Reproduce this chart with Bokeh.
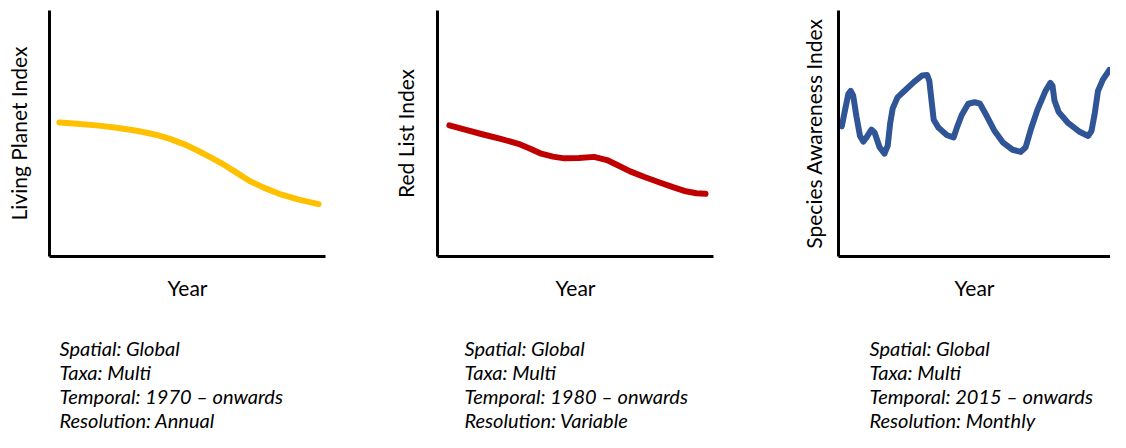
from bokeh.plotting import figure
from bokeh.layouts import row, column
from bokeh.models import Range1d, FixedTicker, ColumnDataSource
from bokeh.embed import file_html
from bokeh.resources import INLINE
from bokeh.core.properties import value

FONT = "Lato"

# ---- data (relative index values, 0-100 scales) ----
lpi_x = [3.6, 10.0, 17.9, 25.0, 32.1, 38.5, 43.9, 48.9, 53.6, 58.4, 63.2, 67.9, 72.5, 77.8, 83.2, 90.0, 97.5]
lpi_y = [54.5, 54.0, 53.2, 52.2, 51.0, 49.5, 47.7, 45.6, 43.1, 40.3, 37.3, 34.0, 30.7, 27.9, 25.5, 23.2, 21.3]

rli_x = [4.3, 10.0, 16.2, 22.9, 29.3, 33.6, 37.6, 41.8, 46.0, 51.3, 56.7, 61.4, 65.5, 69.8, 75.0, 80.5, 85.3, 90.0, 93.8, 97.1]
rli_y = [53.3, 51.6, 49.7, 47.8, 45.8, 43.8, 41.8, 40.6, 39.9, 40.0, 40.5, 39.2, 37.0, 34.6, 32.3, 30.1, 28.2, 26.5, 25.7, 25.5]

sai_x = [1.2, 2.4, 3.6, 4.5, 5.4, 6.6, 7.9, 9.1, 10.3, 12.1, 13.3, 15.1, 16.9, 18.1, 19.0, 19.9, 21.7,
         24.2, 27.8, 30.8, 32.6, 33.4, 34.2, 35.0, 36.8, 39.9, 42.3, 43.5, 45.3, 47.7, 50.1, 52.0,
         54.3, 57.4, 60.4, 64.0, 67.0, 68.8, 70.7, 73.1, 76.1, 77.9, 78.7, 79.4, 80.9, 84.5, 88.8,
         91.8, 93.0, 94.2, 95.4, 97.2, 99.6]
sai_y = [52.9, 59.5, 66.0, 67.3, 65.4, 56.9, 49.0, 46.7, 48.4, 51.6, 50.3, 44.4, 41.8, 45.1, 54.2, 60.1, 64.7,
         67.3, 71.0, 73.6, 73.8, 71.3, 63.4, 55.6, 52.3, 49.3, 48.4, 52.3, 57.5, 62.1, 62.7, 62.1,
         57.5, 51.0, 46.4, 43.4, 42.5, 44.4, 51.6, 59.5, 67.3, 70.6, 69.3, 63.4, 58.8, 54.2, 50.6,
         49.0, 51.0, 58.1, 67.3, 71.9, 75.8]

x_label = "Year"
y_labels = ["Living Planet Index", "Red List Index", "Species Awareness Index"]
line_colors = ["#FFC000", "#C00000", "#2F5597"]

notes_1 = ["Spatial: Global", "Taxa: Multi", "Temporal: 1970 \u2013 onwards", "Resolution: Annual"]
notes_2 = ["Spatial: Global", "Taxa: Multi", "Temporal: 1980 \u2013 onwards", "Resolution: Variable"]
notes_3 = ["Spatial: Global", "Taxa: Multi", "Temporal: 2015 \u2013 onwards", "Resolution: Monthly"]


def make_panel(xs, ys, ylabel, color, border_left, frame_w, border_right, ylabel_standoff):
    p = figure(frame_width=frame_w, frame_height=246,
               min_border_left=border_left, min_border_right=border_right,
               min_border_top=10, min_border_bottom=54,
               x_range=Range1d(0, 100), y_range=Range1d(0, 100),
               output_backend="svg", toolbar_location=None,
               background_fill_color="white", border_fill_color="white")
    p.outline_line_color = None
    p.grid.visible = False
    for ax in (p.xaxis, p.yaxis):
        ax.ticker = FixedTicker(ticks=[])
        ax.axis_line_width = 3
        ax.axis_line_color = "black"
        ax.major_tick_line_color = None
        ax.minor_tick_line_color = None
        ax.major_tick_out = 0
        ax.major_tick_in = 0
        ax.major_label_standoff = 0
        ax.major_label_text_font_size = "0px"
        ax.axis_label_text_font = FONT
        ax.axis_label_text_font_style = "normal"
        ax.axis_label_text_font_size = "21px"
        ax.axis_label_text_color = "black"
    p.xaxis.axis_label = x_label
    p.xaxis.axis_label_standoff = 18
    p.yaxis.axis_label = ylabel
    p.yaxis.axis_label_standoff = ylabel_standoff
    p.line(xs, ys, line_color=color, line_width=6, line_join="round", line_cap="round")
    return p


p1 = make_panel(lpi_x, lpi_y, y_labels[0], line_colors[0], 49, 276, 45, 19)
p2 = make_panel(rli_x, rli_y, y_labels[1], line_colors[1], 67, 276, 27, 20)
p3 = make_panel(sai_x, sai_y, y_labels[2], line_colors[2], 98, 272, 0, 13)

# ---- notes below the panels ----
col_left = [59, 464, 869]
line_y0 = 37
line_step = 24
tx, ty, tt = [], [], []
for left, notes in zip(col_left, [notes_1, notes_2, notes_3]):
    for i, s in enumerate(notes):
        tx.append(left)
        ty.append(line_y0 + i * line_step)
        tt.append(s)
src = ColumnDataSource(dict(x=tx, y=ty, text=tt))

pt = figure(width=1110, height=122, x_range=Range1d(0, 1110), y_range=Range1d(122, 0),
            x_axis_type=None, y_axis_type=None, min_border=0,
            output_backend="svg", toolbar_location=None)
pt.outline_line_color = None
pt.grid.visible = False
pt.text(x="x", y="y", text="text", source=src, text_font=value(FONT), text_font_style="italic",
        text_font_size="20px", text_baseline="middle", text_align="left", text_color="black")

layout = column(row(p1, p2, p3), pt)

open("out.html", "w").write(file_html(layout, INLINE))
